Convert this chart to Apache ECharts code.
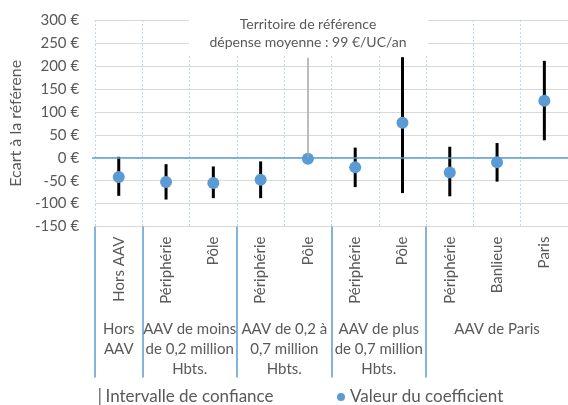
<!DOCTYPE html>
<html>
<head>
<meta charset="utf-8">
<script src="https://cdn.jsdelivr.net/npm/echarts@6/dist/echarts.min.js"></script>
<style>html,body{margin:0;padding:0;background:#fff}#c{width:568px;height:405px}</style>
</head>
<body>
<div id="c"></div>
<script>
const categories = ['Hors AAV','Périphérie','Pôle','Périphérie','Pôle','Périphérie','Pôle','Périphérie','Banlieue','Paris'];
const coefValues = [-42, -53, -55, -48, -2, -21, 76, -32, -10, 124];
const ciLow  = [-83, -91, -88, -88, null, -64, -77, -84, -52, 38];
const ciHigh = [2, -14, -19, -8, null, 22, 219, 24, 32, 211];
const groupLabels = ['Hors\nAAV', 'AAV de moins\nde 0,2 million\nHbts.', 'AAV de 0,2 à\n0,7 million\nHbts.', 'AAV de plus\nde 0,7 million\nHbts.', 'AAV de Paris'];
const groupCenters = [0, 1.5, 3.5, 5.5, 8];
const groupBounds = [-0.5, 0.5, 2.5, 4.5, 6.5];
const yTicks = [-150, -100, -50, 0, 50, 100, 150, 200, 250, 300];
const referenceIndex = 4;
const referenceTop = 218;
const annotationLines = ['Territoire de référence', 'dépense moyenne : 99 €/UC/an'];

const FONT = 'Lato';
const GRAY = '#595959';
const BLUE = '#5B9BD5';

const ciData = categories.map((c, i) => [i, ciLow[i], ciHigh[i]]).filter(d => d[1] !== null);

const chart = echarts.init(document.getElementById('c'));
chart.setOption({
  animation: false,
  textStyle: { fontFamily: FONT, color: GRAY },
  grid: { left: 92, right: 0, top: 20, height: 206.6 },
  xAxis: [
    {
      type: 'category',
      data: categories,
      boundaryGap: true,
      axisLine: { show: false },
      axisTick: { show: false },
      axisLabel: { rotate: 90, fontSize: 15, color: GRAY, fontFamily: FONT, margin: 10, interval: 0 },
      splitLine: { show: true, interval: 0, lineStyle: { color: '#BDD7EE', type: [2, 2], width: 1 } }
    },
    {
      type: 'value',
      min: -0.5, max: 9.5,
      position: 'bottom',
      offset: 0,
      axisLine: { show: false },
      splitLine: { show: false },
      axisTick: { show: true, inside: false, length: 151, customValues: groupBounds, lineStyle: { color: BLUE, width: 1.5 } },
      axisLabel: {
        customValues: groupCenters,
        formatter: v => { const k = groupCenters.indexOf(v); return k >= 0 ? groupLabels[k] : ''; },
        fontSize: 15, color: GRAY, fontFamily: FONT, lineHeight: 20, margin: 93, verticalAlign: 'top', align: 'center'
      }
    }
  ],
  yAxis: {
    type: 'value',
    min: yTicks[0], max: yTicks[yTicks.length - 1], interval: 50,
    name: 'Ecart à la référene',
    nameLocation: 'middle',
    nameGap: 66,
    nameTextStyle: { fontSize: 16, color: GRAY, fontFamily: FONT },
    axisLine: { show: false },
    axisTick: { show: false },
    axisLabel: { formatter: v => v + ' €', fontSize: 15, color: GRAY, fontFamily: FONT, margin: 16 },
    splitLine: { lineStyle: { color: '#D9D9D9', width: 1 } }
  },
  legend: [
    {
      left: 99, top: 388, padding: 0,
      itemWidth: 1.5, itemHeight: 18, itemGap: 5,
      textStyle: { fontSize: 17, lineHeight: 18, color: GRAY, fontFamily: FONT },
      data: [{ name: 'Intervalle de confiance', icon: 'rect', itemStyle: { color: '#7F7F7F' } }]
    },
    {
      left: 337, top: 388, padding: 0,
      itemWidth: 8, itemHeight: 8,
      textStyle: { fontSize: 17, lineHeight: 18, color: GRAY, fontFamily: FONT },
      data: [{ name: 'Valeur du coefficient', icon: 'circle' }]
    }
  ],
  graphic: [
    {
      type: 'rect', z: 5,
      shape: { x: 189, y: 9, width: 239, height: 47 },
      style: { fill: '#fff' }
    },
    {
      type: 'text', z: 6,
      x: 308, y: 15,
      style: {
        text: annotationLines.join('\n'), fill: GRAY, font: '14px Lato', align: 'center', verticalAlign: 'top', lineHeight: 18
      }
    }
  ],
  series: [
    {
      name: 'Intervalle de confiance',
      type: 'custom',
      xAxisIndex: 0,
      itemStyle: { color: '#000' },
      encode: { x: 0, y: [1, 2] },
      data: ciData,
      renderItem: (params, api) => {
        const p1 = api.coord([api.value(0), api.value(1)]);
        const p2 = api.coord([api.value(0), api.value(2)]);
        return { type: 'line', shape: { x1: p1[0], y1: p1[1], x2: p2[0], y2: p2[1] }, style: { stroke: '#000', lineWidth: 3 } };
      },
      z: 3
    },
    {
      name: 'Valeur du coefficient',
      type: 'scatter',
      xAxisIndex: 0,
      data: coefValues,
      symbolSize: 12,
      itemStyle: { color: BLUE, opacity: 1 },
      z: 4,
      markLine: {
        silent: true, symbol: 'none', label: { show: false },
        data: [
          [{ coord: [referenceIndex, coefValues[referenceIndex]], lineStyle: { color: '#A6A6A6', width: 1.5, type: 'solid' } },
           { coord: [referenceIndex, referenceTop] }],
          [{ yAxis: 0, x: 92, lineStyle: { color: BLUE, width: 1.5, type: 'solid' } },
           { yAxis: 0, x: 568 }]
        ]
      }
    }
  ]
});
</script>
</body>
</html>
